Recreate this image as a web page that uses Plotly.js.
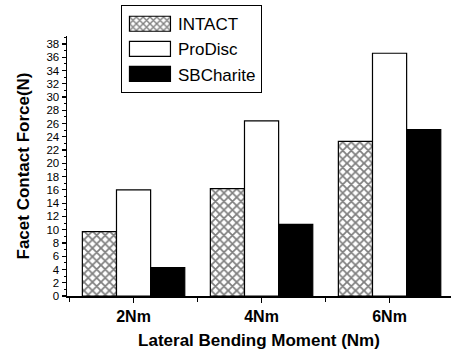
<!DOCTYPE html>
<html>
<head>
<meta charset="utf-8">
<script src="https://cdn.plot.ly/plotly-3.0.1.min.js"></script>
<style>html,body{margin:0;padding:0;background:#fff;}</style>
</head>
<body>
<div id="chart" style="width:457px;height:355px;"></div>
<script>
var categories = ['2Nm', '4Nm', '6Nm'];
var intact = [9.7, 16.2, 23.3];
var prodisc = [16.0, 26.4, 36.6];
var sbcharite = [4.3, 10.8, 25.1];
var yTickVals = [0,2,4,6,8,10,12,14,16,18,20,22,24,26,28,30,32,34,36,38];

var xpos = categories.map(function(c, i){ return i; });
var line = {color: '#000', width: 1.2};

var traces = [
  {type:'bar', name:'INTACT', x:xpos, y:intact,
   marker:{color:'#fff', line:line, pattern:{shape:'x', size:6, solidity:0.5, fgcolor:'#000', bgcolor:'#fff', fillmode:'overlay'}}},
  {type:'bar', name:'ProDisc', x:xpos, y:prodisc,
   marker:{color:'#fff', line:line}},
  {type:'bar', name:'SBCharite', x:xpos, y:sbcharite,
   marker:{color:'#000', line:line}}
];

var layout = {
  width:457, height:355,
  margin:{l:67, r:6, t:35, b:59, pad:0},
  paper_bgcolor:'#fff', plot_bgcolor:'#fff',
  font:{family:'Liberation Sans, Arial, sans-serif', color:'#000'},
  barmode:'group', bargap:0.2, bargroupgap:0,
  showlegend:true,
  legend:{x:0.14, y:1.115, xanchor:'left', yanchor:'top',
          bordercolor:'#000', borderwidth:1.2, bgcolor:'#fff',
          font:{size:17, color:'#000'}, itemwidth:46, tracegroupgap:0},
  xaxis:{range:[-0.52, 2.48], tickvals:xpos, ticktext:categories,
         showline:true, linecolor:'#000', linewidth:1.5, mirror:false,
         ticks:'outside', ticklen:5, tickwidth:1.2, tickcolor:'#000',
         minor:{dtick:0.5, tick0:0.5, ticks:'outside', ticklen:4, tickwidth:1.2, tickcolor:'#000', showgrid:false},
         showgrid:false, zeroline:false,
         tickfont:{size:16, family:'Liberation Sans, Arial, sans-serif', weight:'bold'},
         title:{text:'<b>Lateral Bending Moment (Nm)</b>', font:{size:17}, standoff:10}},
  yaxis:{range:[0, 39.2], tickvals:yTickVals,
         showline:true, linecolor:'#000', linewidth:1.5,
         ticks:'outside', ticklen:4, tickwidth:1.2, tickcolor:'#000',
         minor:{dtick:1, tick0:0, ticks:'outside', ticklen:2, tickwidth:1, tickcolor:'#000', showgrid:false},
         showgrid:false, zeroline:false,
         tickfont:{size:11.5},
         title:{text:'<b>Facet Contact Force(N)</b>', font:{size:17}, standoff:12}}
};

Plotly.newPlot('chart', traces, layout, {displayModeBar:false, staticPlot:true}).then(function(gd){
  var paths = gd.querySelectorAll('.legend .legendpoints path');
  paths.forEach(function(p){ p.setAttribute('d', 'M20.5,7.5H-20.5V-7.5H20.5Z'); });
});
</script>
</body>
</html>
